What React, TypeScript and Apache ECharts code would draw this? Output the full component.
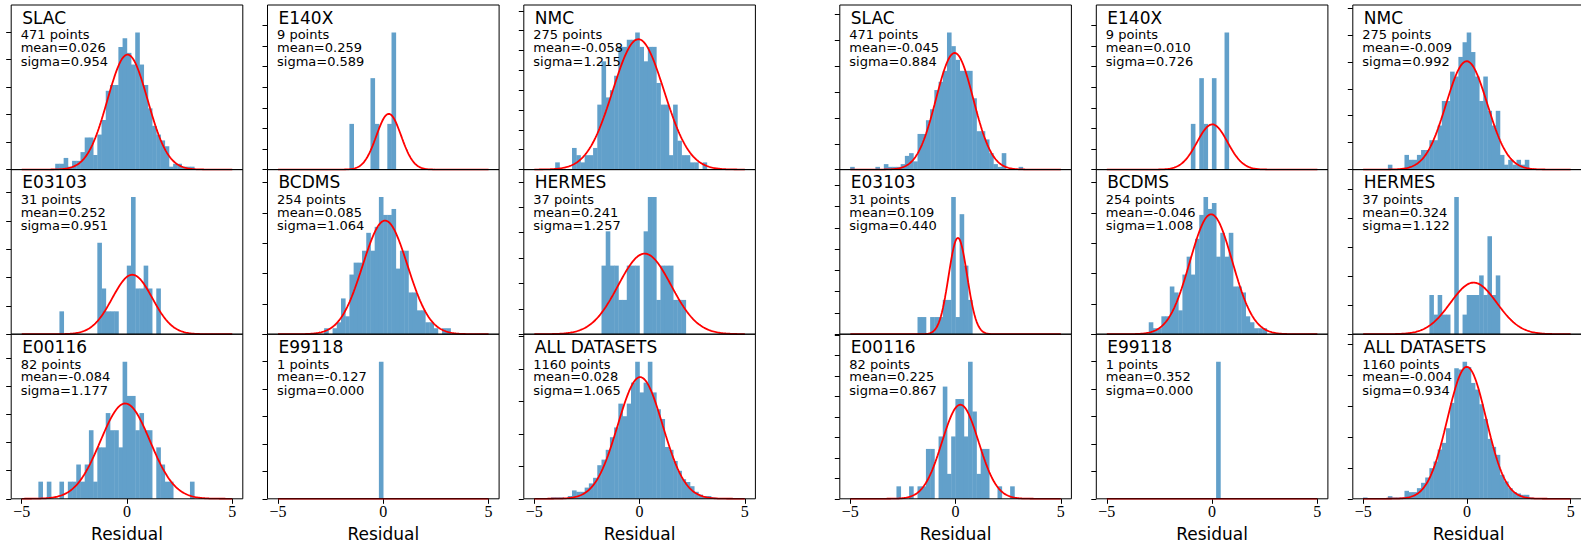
import React, { useEffect, useRef } from "react";
import * as echarts from "echarts";

// Residual histograms: two fits (left block, right block), nine datasets each.
const BIN_WIDTH = 0.2;

const DATASETS = ["SLAC", "E140X", "NMC", "E03103", "BCDMS", "HERMES", "E00116", "E99118", "ALL DATASETS"];
const POINTS = [471, 9, 275, 31, 254, 37, 82, 1, 1160];

const MEAN_LEFT = [0.026, 0.259, -0.058, 0.252, 0.085, 0.241, -0.084, -0.127, 0.028];
const SIGMA_LEFT = [0.954, 0.589, 1.215, 0.951, 1.064, 1.257, 1.177, 0.0, 1.065];
const MEAN_RIGHT = [-0.045, 0.01, -0.009, 0.109, -0.046, 0.324, 0.225, 0.352, -0.004];
const SIGMA_RIGHT = [0.884, 0.726, 0.992, 0.44, 1.008, 1.122, 0.867, 0.0, 0.934];

// Left edge of the first populated 0.2-wide bin, per dataset
const FIRST_EDGE_LEFT = [-3.4, -1.6, -4.0, -3.2, -2.8, -1.8, -4.2, -0.2, -4.2];
const FIRST_EDGE_RIGHT = [-5.0, -1.0, -3.8, -1.8, -3.0, -1.8, -2.8, 0.2, -5.0];

// Bin counts, left fit
const L_SLAC = [2, 2, 4, 1, 3, 3, 6, 11, 11, 5, 12, 17, 27, 29, 29, 42, 45, 40, 36, 47, 36, 29, 21, 15, 12, 10, 8, 1, 2, 2, 1, 1, 1];
const L_E140X = [1, 0, 0, 0, 0, 2, 1, 0, 0, 1, 3];
const L_NMC = [1, 0, 0, 0, 3, 2, 1, 2, 2, 3, 9, 15, 10, 11, 13, 17, 17, 18, 18, 19, 17, 15, 17, 17, 12, 9, 9, 2, 9, 4, 2, 2, 1, 1, 0, 1];
const L_E03103 = [1, 0, 0, 0, 0, 0, 0, 0, 0, 4, 2, 1, 1, 1, 0, 0, 3, 6, 2, 2, 3, 2, 0, 2];
const L_BCDMS = [1, 0, 1, 2, 6, 3, 10, 12, 12, 14, 17, 14, 18, 23, 20, 20, 21, 11, 14, 14, 7, 7, 4, 4, 2, 2, 1, 0, 1, 1];
const L_HERMES = [2, 3, 2, 2, 1, 1, 2, 2, 2, 0, 3, 4, 4, 1, 2, 2, 2, 1, 1, 1];
const L_E00116 = [1, 0, 1, 0, 0, 1, 0, 1, 1, 2, 1, 2, 4, 1, 3, 3, 5, 4, 4, 3, 8, 6, 6, 4, 5, 4, 4, 0, 3, 2, 1, 1, 0, 0, 0, 0, 1];
const L_E99118 = [1];
const L_ALL = [1, 1, 1, 0, 2, 6, 5, 5, 8, 11, 15, 24, 28, 35, 44, 51, 68, 59, 68, 83, 98, 76, 83, 98, 76, 64, 57, 37, 35, 27, 20, 14, 12, 9, 5, 3, 2, 2, 1];

// Bin counts, right fit
const R_SLAC = [1, 0, 0, 0, 0, 0, 1, 0, 2, 1, 1, 1, 2, 5, 6, 3, 13, 13, 18, 22, 29, 32, 36, 50, 45, 40, 36, 36, 36, 26, 14, 14, 11, 6, 2, 1, 6, 0, 0, 0, 1];
const R_E140X = [1, 0, 2, 1, 0, 2, 0, 0, 3];
const R_NMC = [1, 0, 0, 0, 3, 2, 2, 3, 4, 4, 6, 6, 9, 14, 14, 20, 19, 23, 26, 28, 24, 19, 14, 19, 12, 9, 12, 3, 1, 2, 1, 2, 1, 2];
const R_E03103 = [1, 1, 0, 1, 1, 1, 2, 2, 8, 1, 7, 4, 2];
const R_BCDMS = [2, 1, 1, 3, 3, 8, 7, 4, 10, 13, 10, 16, 20, 23, 21, 22, 13, 17, 13, 17, 8, 8, 7, 3, 2, 1, 1, 1];
const R_HERMES = [2, 1, 2, 1, 1, 0, 7, 0, 1, 2, 2, 2, 3, 2, 5, 2, 3];
const R_E00116 = [1, 0, 0, 1, 0, 1, 1, 4, 4, 0, 5, 9, 2, 5, 8, 8, 5, 11, 7, 2, 4, 4, 0, 0, 1, 0, 0, 1];
const R_E99118 = [1];
const R_ALL = [1, 0, 0, 0, 0, 0, 2, 1, 1, 1, 6, 5, 5, 8, 12, 16, 23, 28, 37, 42, 53, 72, 98, 97, 103, 99, 87, 82, 71, 60, 45, 39, 33, 18, 13, 8, 5, 4, 3, 3, 1];

const COUNTS_LEFT = [L_SLAC, L_E140X, L_NMC, L_E03103, L_BCDMS, L_HERMES, L_E00116, L_E99118, L_ALL];
const COUNTS_RIGHT = [R_SLAC, R_E140X, R_NMC, R_E03103, R_BCDMS, R_HERMES, R_E00116, R_E99118, R_ALL];

const X_TICKS = [-5, 0, 5];

// Layout
const COL_X = [11.2, 267.5, 523.8, 839.8, 1096.3, 1352.8];
const ROW_Y = [5, 169.6, 334.2];
const PANEL_W = 231.6;
const PANEL_H = 164.6;
const BAR_COLOR = "#62a0ca";
const CURVE_COLOR = "#ff0000";
const SANS = '"DejaVu Sans", sans-serif';
const SERIF = '"Liberation Serif", serif';

function niceStep(ymax: number): number {
  const raw = ymax / 9;
  const mag = Math.pow(10, Math.floor(Math.log10(raw)));
  for (const s of [1, 2, 2.5, 5, 10]) {
    if (s * mag >= raw - 1e-12) return s * mag;
  }
  return 10 * mag;
}

function fmtTick(v: number): string {
  return v < 0 ? "\u2212" + Math.abs(v) : String(v);
}

function buildOption() {
  const grid: any[] = [];
  const xAxis: any[] = [];
  const yAxis: any[] = [];
  const series: any[] = [];
  const graphic: any[] = [];

  for (let g = 0; g < 2; g++) {
    const counts = g === 0 ? COUNTS_LEFT : COUNTS_RIGHT;
    const firsts = g === 0 ? FIRST_EDGE_LEFT : FIRST_EDGE_RIGHT;
    const means = g === 0 ? MEAN_LEFT : MEAN_RIGHT;
    const sigmas = g === 0 ? SIGMA_LEFT : SIGMA_RIGHT;

    for (let k = 0; k < 9; k++) {
      const idx = g * 9 + k;
      const row = Math.floor(k / 3);
      const col = k % 3;
      const left = COL_X[g * 3 + col];
      const top = ROW_Y[row];
      const n = POINTS[k];
      const norm = n * BIN_WIDTH;

      const bars = counts[k].map((c, i) => {
        const x0 = +(firsts[k] + i * BIN_WIDTH).toFixed(4);
        return [x0, +(x0 + BIN_WIDTH).toFixed(4), c / norm];
      });
      const maxDensity = Math.max(...counts[k]) / norm;
      const ymax = 1.2 * maxDensity;
      const step = niceStep(ymax);
      const yTicks: number[] = [];
      for (let t = 0; t <= ymax + 1e-9; t += step) yTicks.push(+t.toFixed(6));

      const m = means[k];
      const s = sigmas[k];
      const curve: number[][] = [];
      if (s > 0) {
        for (let j = 0; j <= 200; j++) {
          const x = -5 + j * 0.05;
          const y = Math.exp(-((x - m) * (x - m)) / (2 * s * s)) / (s * Math.sqrt(2 * Math.PI));
          curve.push([x, y]);
        }
      } else {
        curve.push([-5, 0], [5, 0]);
      }

      const bottomRow = row === 2;
      grid.push({ left, top, width: PANEL_W, height: PANEL_H, show: false, containLabel: false });
      xAxis.push({
        type: "value",
        gridIndex: idx,
        position: "bottom",
        min: -5.5,
        max: 5.5,
        axisLine: { show: false, onZero: false },
        splitLine: { show: false },
        axisTick: bottomRow
          ? { show: true, customValues: X_TICKS, length: 5, lineStyle: { color: "#000", width: 1 } }
          : { show: false },
        axisLabel: bottomRow
          ? {
              show: true,
              customValues: X_TICKS,
              formatter: (v: number) => fmtTick(v),
              fontFamily: SERIF,
              fontSize: 16,
              color: "#000",
              margin: 5,
            }
          : { show: false },
      });
      yAxis.push({
        type: "value",
        gridIndex: idx,
        position: "left",
        min: 0,
        max: ymax,
        interval: step,
        axisLine: { show: false, onZero: false },
        splitLine: { show: false },
        axisLabel: { show: false },
        axisTick: { show: true, customValues: yTicks, length: 5, lineStyle: { color: "#000", width: 1 } },
      });

      series.push({
        type: "custom",
        xAxisIndex: idx,
        yAxisIndex: idx,
        silent: true,
        z: 2,
        encode: { x: [0, 1], y: 2 },
        data: bars,
        renderItem: (_p: any, api: any) => {
          const a = api.coord([api.value(0), 0]);
          const b = api.coord([api.value(1), api.value(2)]);
          return {
            type: "rect",
            shape: { x: a[0] - 0.2, y: b[1], width: b[0] - a[0] + 0.4, height: a[1] - b[1] },
            style: { fill: BAR_COLOR },
          };
        },
      });
      series.push({
        type: "line",
        xAxisIndex: idx,
        yAxisIndex: idx,
        silent: true,
        z: 3,
        symbol: "none",
        showSymbol: false,
        data: curve,
        lineStyle: { color: CURVE_COLOR, width: 1.8 },
      });

      graphic.push({
        type: "rect",
        silent: true,
        z: 100,
        shape: { x: left, y: top, width: PANEL_W, height: PANEL_H },
        style: { fill: "none", stroke: "#000", lineWidth: 1 },
      });
      graphic.push({
        type: "text",
        silent: true,
        z: 100,
        x: left + 11,
        y: top + 12.6,
        style: { text: DATASETS[k], font: `17px ${SANS}`, fill: "#000", verticalAlign: "middle" },
      });
      const stats = [`${n} points`, `mean=${m.toFixed(3)}`, `sigma=${s.toFixed(3)}`];
      const offs = [29.8, 42.4, 56.2];
      stats.forEach((t, i) => {
        graphic.push({
          type: "text",
          silent: true,
          z: 100,
          x: left + 9.5,
          y: top + offs[i],
          style: { text: t, font: `13px ${SANS}`, fill: "#000", verticalAlign: "middle" },
        });
      });
      if (bottomRow) {
        graphic.push({
          type: "text",
          silent: true,
          z: 100,
          x: left + PANEL_W / 2,
          y: 534.4,
          style: { text: "Residual", font: `17px ${SANS}`, fill: "#000", align: "center", verticalAlign: "middle" },
        });
      }
    }
  }

  return { animation: false, backgroundColor: "#fff", grid, xAxis, yAxis, series, graphic };
}

export default function App() {
  const ref = useRef<HTMLDivElement>(null);
  useEffect(() => {
    const chart = echarts.init(ref.current!, undefined, { renderer: "svg" });
    chart.setOption(buildOption());
    return () => chart.dispose();
  }, []);
  return (
    <div
      ref={ref}
      style={{ position: "absolute", left: 0, top: 0, width: 1581, height: 545, background: "#fff" }}
    />
  );
}
